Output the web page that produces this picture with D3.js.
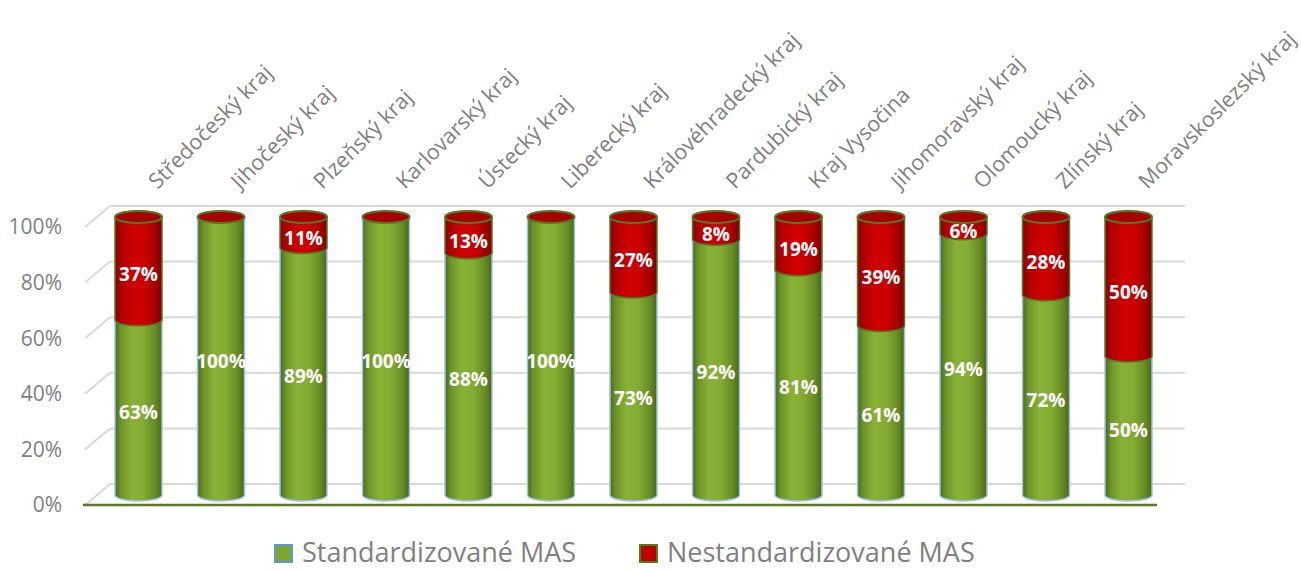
<!DOCTYPE html>
<meta charset="utf-8">
<style>
  body { margin: 0; background: #fff; }
  text { font-family: "Open Sans", sans-serif; }
</style>
<body>
<svg class="chart"></svg>
<script src="https://cdn.jsdelivr.net/npm/d3@7/dist/d3.min.js"></script>
<script>

// Data
var categories = ["Středočeský kraj", "Jihočeský kraj", "Plzeňský kraj", "Karlovarský kraj",
  "Ústecký kraj", "Liberecký kraj", "Královéhradecký kraj", "Pardubický kraj", "Kraj Vysočina",
  "Jihomoravský kraj", "Olomoucký kraj", "Zlínský kraj", "Moravskoslezský kraj"];
var standard    = [63, 100, 89, 100, 88, 100, 73, 92, 81, 61, 94, 72, 50];
var nonstandard = [37,   0, 11,   0, 13,   0, 27,  8, 19, 39,  6, 28, 50];
var yTicks = [0, 20, 40, 60, 80, 100];
var seriesNames = ["Standardizované MAS", "Nestandardizované MAS"];

var width = 1301, height = 570;

var svg = d3.select(".chart")
    .attr("width", width)
    .attr("height", height);

var defs = svg.append("defs");

// horizontal gradients to fake the cylinder shading
function gradient(id, stops) {
  var g = defs.append("linearGradient").attr("id", id)
      .attr("x1", "0%").attr("x2", "100%").attr("y1", "0%").attr("y2", "0%");
  stops.forEach(function(s) {
    g.append("stop").attr("offset", s[0]).attr("stop-color", s[1]);
  });
}
gradient("gGreen", [["0%", "#4b6a1a"], ["12%", "#6c9327"], ["35%", "#88b136"],
                    ["60%", "#84ac33"], ["85%", "#678c25"], ["100%", "#4a6619"]]);
gradient("gRed", [["0%", "#8a0000"], ["15%", "#b30000"], ["40%", "#cf0000"],
                  ["62%", "#cb0000"], ["85%", "#a50000"], ["100%", "#7f0000"]]);

// 100% stacked: share of the green part in each bar
function share(i) { return standard[i] / (standard[i] + nonstandard[i]) * 100; }

// scales: mid-depth plane where the cylinders stand
var x = d3.scalePoint().domain(categories).range([138.5, 1128.5]);
var y = d3.scaleLinear().domain([0, 100]).range([495, 217]);
var rx = 23.5, ry = 6;

// back wall offset and front offset (fake 3D depth)
var back = { dx: 12, dy: -11 }, front = { dx: -13, dy: 10 };

// gridlines on back wall + side diagonals
var grid = svg.append("g");
yTicks.forEach(function(t) {
  var yb = y(t) + back.dy, yf = y(t) + front.dy;
  grid.append("line")
      .attr("x1", 110).attr("x2", 1185).attr("y1", yb).attr("y2", yb)
      .attr("stroke", "#d9d9d9").attr("stroke-width", 2);
  grid.append("line")
      .attr("x1", 85).attr("x2", 110).attr("y1", yf).attr("y2", yb)
      .attr("stroke", "#d9d9d9").attr("stroke-width", 2);
});

// front axis line
svg.append("line")
    .attr("x1", 83).attr("x2", 1157)
    .attr("y1", y(0) + front.dy).attr("y2", y(0) + front.dy)
    .attr("stroke", "#5a7a23").attr("stroke-width", 2.5);

// y tick labels
svg.append("g").selectAll("text")
    .data(yTicks)
  .enter().append("text")
    .attr("x", 62)
    .attr("y", function(d) { return y(d) + front.dy; })
    .attr("dy", "0.35em")
    .attr("text-anchor", "end")
    .attr("fill", "#7f7f7f")
    .style("font-size", "21px")
    .text(function(d) { return d + "%"; });

// cylinder segment path between two values
function segment(cx, v0, v1) {
  var y0 = y(v0), y1 = y(v1), x0 = cx - rx, x1 = cx + rx;
  return "M" + x0 + "," + y1 + "L" + x0 + "," + y0 +
    "A" + rx + "," + ry + " 0 0 0 " + x1 + "," + y0 +
    "L" + x1 + "," + y1 +
    "A" + rx + "," + ry + " 0 0 0 " + x0 + "," + y1 + "Z";
}

var bars = svg.append("g").selectAll("g")
    .data(categories)
  .enter().append("g");

// green part
bars.append("path")
    .attr("d", function(d, i) { return segment(x(d), 0, share(i)); })
    .attr("fill", "url(#gGreen)")
    .attr("stroke", "#9dc3e6")
    .attr("stroke-width", 1.5);

// red part
bars.filter(function(d, i) { return nonstandard[i] > 0; })
  .append("path")
    .attr("d", function(d) {
      var i = categories.indexOf(d);
      return segment(x(d), share(i), 100);
    })
    .attr("fill", "url(#gRed)")
    .attr("stroke", "#55791f")
    .attr("stroke-width", 1.5);

// top cap
bars.append("ellipse")
    .attr("cx", function(d) { return x(d); })
    .attr("cy", y(100))
    .attr("rx", rx).attr("ry", ry)
    .attr("fill", "#a60000")
    .attr("stroke", "#55791f")
    .attr("stroke-width", 2);

// value labels
bars.append("text")
    .attr("x", function(d) { return x(d); })
    .attr("y", function(d, i) { return (y(0) + y(share(i))) / 2 + 5; })
    .attr("dy", "0.35em")
    .attr("text-anchor", "middle")
    .attr("fill", "#fff")
    .style("font-size", "19px")
    .style("font-weight", "bold")
    .text(function(d, i) { return standard[i] + "%"; });

bars.filter(function(d, i) { return nonstandard[i] > 0; })
  .append("text")
    .attr("x", function(d) { return x(d); })
    .attr("y", function(d) {
      var i = categories.indexOf(d);
      return (y(share(i)) + y(100)) / 2 + 6;
    })
    .attr("dy", "0.35em")
    .attr("text-anchor", "middle")
    .attr("fill", "#fff")
    .style("font-size", "19px")
    .style("font-weight", "bold")
    .text(function(d) { return nonstandard[categories.indexOf(d)] + "%"; });

// category labels, rotated
svg.append("g").selectAll("text")
    .data(categories)
  .enter().append("text")
    .attr("transform", function(d) { return "translate(" + (x(d) + 19) + ",190) rotate(-45)"; })
    .attr("fill", "#7f7f7f")
    .style("font-size", "21.5px")
    .text(function(d) { return d; });

// legend
var legend = svg.append("g");
var legendX = [275, 640];
var legendFill = ["#7ea52f", "#c00000"];
var legendStroke = ["#5b9bd5", "#55791f"];
seriesNames.forEach(function(name, i) {
  legend.append("rect")
      .attr("x", legendX[i]).attr("y", 545)
      .attr("width", 17).attr("height", 17)
      .attr("fill", legendFill[i])
      .attr("stroke", legendStroke[i])
      .attr("stroke-width", 2);
  legend.append("text")
      .attr("x", legendX[i] + 27).attr("y", 553)
      .attr("dy", "0.35em")
      .attr("fill", "#7f7f7f")
      .style("font-size", "27px")
      .text(name);
});

</script>
</body>
